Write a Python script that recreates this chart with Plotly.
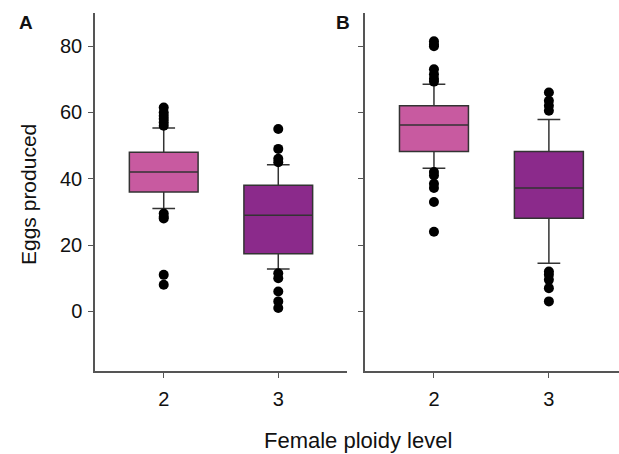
import plotly.graph_objects as go

categories = [2, 3]
# Panel A stats: q1, median, q3, lower whisker, upper whisker
a_q1 = [36, 17.4]
a_med = [42, 29]
a_q3 = [48, 38]
a_lo = [31, 12.8]
a_hi = [55.3, 44.2]
a_out_2 = [61.5, 60, 59, 58, 57, 56, 29.5, 28.5, 28, 11, 8]
a_out_3 = [55, 49, 46, 45, 11.5, 10, 6, 3, 1]

# Panel B stats
b_q1 = [48.2, 28.1]
b_med = [56.2, 37.2]
b_q3 = [62, 48.2]
b_lo = [43.2, 14.5]
b_hi = [68.5, 57.9]
b_out_2 = [81.5, 80.5, 80, 73, 71.5, 70.2, 69.3, 42, 41, 38.5, 37.2, 33, 24]
b_out_3 = [66, 63.5, 62, 60.5, 12, 11, 9.5, 7, 3]

colors = ["#C85AA0", "#8B2A8B"]
y_ticks = [0, 20, 40, 60, 80]

fig = go.Figure()

def add_panel(q1, med, q3, lo, hi, outs, xa, ya):
    for i, c in enumerate(categories):
        fig.add_trace(go.Box(
            x=[c], q1=[q1[i]], median=[med[i]], q3=[q3[i]],
            lowerfence=[lo[i]], upperfence=[hi[i]],
            fillcolor=colors[i], line=dict(color="#333333", width=1.5),
            width=0.6, whiskerwidth=0.33, boxpoints=False,
            xaxis=xa, yaxis=ya, showlegend=False, hoverinfo="skip"))
        fig.add_trace(go.Scatter(
            x=[c] * len(outs[i]), y=outs[i], mode="markers",
            marker=dict(color="black", size=10),
            xaxis=xa, yaxis=ya, showlegend=False))

add_panel(a_q1, a_med, a_q3, a_lo, a_hi, [a_out_2, a_out_3], "x", "y")
add_panel(b_q1, b_med, b_q3, b_lo, b_hi, [b_out_2, b_out_3], "x2", "y2")

axis_common = dict(showline=True, linecolor="#555555", linewidth=1.5,
                   ticks="outside", ticklen=5, tickcolor="#555555",
                   showgrid=False, zeroline=False, mirror=False,
                   tickfont=dict(family="Liberation Sans, Arial", size=20, color="#111"))

font_main = dict(family="Liberation Sans, Arial", color="#111")

fig.update_layout(
    width=619, height=454,
    margin=dict(l=0, r=0, t=0, b=0),
    paper_bgcolor="white", plot_bgcolor="white",
    xaxis=dict(domain=[95/619, 347/619], range=[1.4, 3.6], tickvals=categories,
               anchor="y", ticklabelstandoff=4, **axis_common),
    yaxis=dict(domain=[1 - 371/454, 1 - 13/454], range=[-18, 90], tickvals=y_ticks,
               anchor="x", ticklabelstandoff=2, **axis_common),
    xaxis2=dict(domain=[365/619, 1.0], range=[1.4, 3.61], tickvals=categories,
                anchor="y2", ticklabelstandoff=4, **axis_common),
    yaxis2=dict(domain=[1 - 371/454, 1 - 13/454], range=[-18, 90], tickvals=y_ticks,
                showticklabels=False, anchor="x2", **axis_common),
    annotations=[
        dict(text="<b>A</b>", x=26/619, y=1 - 23/454, xref="paper", yref="paper",
             xanchor="center", yanchor="middle", showarrow=False,
             font=dict(size=19, **font_main)),
        dict(text="<b>B</b>", x=343/619, y=1 - 23/454, xref="paper", yref="paper",
             xanchor="center", yanchor="middle", showarrow=False,
             font=dict(size=19, **font_main)),
        dict(text="Eggs produced", x=28/619, y=1 - 195/454, xref="paper", yref="paper",
             xanchor="center", yanchor="middle", textangle=-90, showarrow=False,
             font=dict(size=21, **font_main)),
        dict(text="Female ploidy level", x=358/619, y=1 - 440/454, xref="paper", yref="paper",
             xanchor="center", yanchor="middle", showarrow=False,
             font=dict(size=22, **font_main)),
    ],
)

fig.write_html("out.html")
